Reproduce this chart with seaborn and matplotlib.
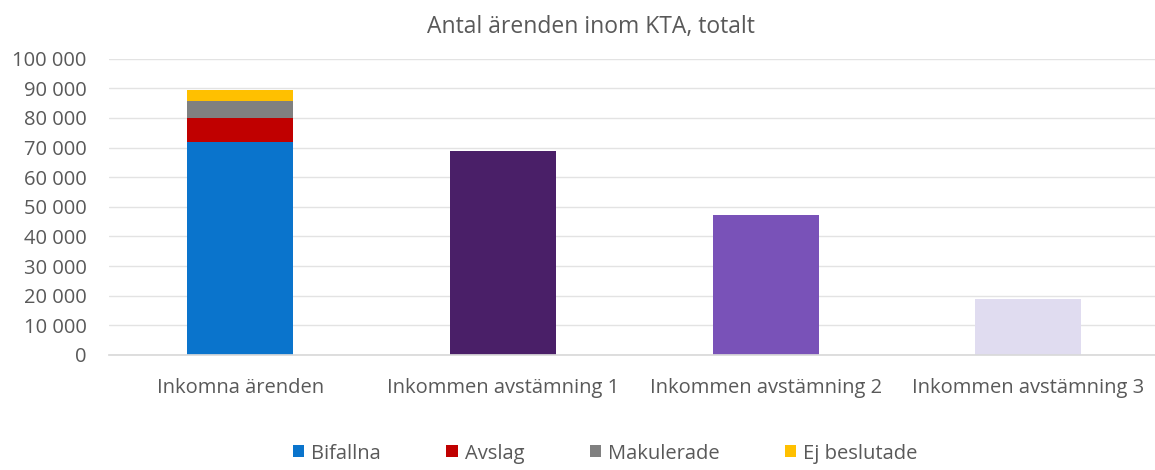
import numpy as np
import pandas as pd
import seaborn as sns
import matplotlib.pyplot as plt
from matplotlib.patches import Patch
from matplotlib.ticker import FuncFormatter

# data
categories = ["Inkomna ärenden", "Inkommen avstämning 1",
              "Inkommen avstämning 2", "Inkommen avstämning 3"]
stack_labels = ["Bifallna", "Avslag", "Makulerade", "Ej beslutade"]
stack_values = [72000, 7900, 5900, 3500]
stack_colors = ["#0A74CC", "#C00000", "#808080", "#FFC000"]
other_values = [69000, 47300, 18800]
other_colors = ["#4A1F68", "#7952B8", "#E0DCF0"]

sns.set_theme(style="white")
plt.rcParams['font.family'] = ['Open Sans', 'DejaVu Sans']
text_grey = "#595959"
fs = 14.5

fig = plt.figure(figsize=(11.55, 4.7), dpi=100)
ax = fig.add_axes([0.0941, 0.245, 0.910, 0.63])

bar_w = 0.403

# stacked first bar: draw cumulative totals from the top down
cum = np.cumsum(stack_values)
for i in reversed(range(len(stack_values))):
    sns.barplot(x=[categories[0]], y=[cum[i]], order=categories,
                color=stack_colors[i], saturation=1, width=bar_w,
                linewidth=0, ax=ax)

df = pd.DataFrame({"kategori": categories[1:], "antal": other_values})
sns.barplot(data=df, x="kategori", y="antal", order=categories,
            hue="kategori", palette=other_colors, saturation=1,
            width=bar_w, linewidth=0, legend=False, ax=ax)

ax.set_ylim(0, 100000)
ax.set_xlim(-0.5, 3.5)
ax.set_yticks(np.arange(0, 100001, 10000))
ax.yaxis.set_major_formatter(FuncFormatter(lambda v, p: f"{int(v):,}".replace(",", " ")))
ax.grid(axis="y", color="#E3E3E3", linewidth=1)
ax.set_axisbelow(True)
sns.despine(ax=ax, left=True, top=True, right=True, bottom=False)
ax.spines["bottom"].set_color("#D9D9D9")
ax.tick_params(axis="both", length=0, labelsize=fs, colors=text_grey)
ax.tick_params(axis="y", pad=16)
ax.tick_params(axis="x", pad=17)
ax.set_xlabel("")
ax.set_ylabel("")
fig.text(0.512, 0.942, "Antal ärenden inom KTA, totalt", fontsize=16.5,
         color=text_grey, ha="center", va="center")

handles = [Patch(facecolor=c, edgecolor="none") for c in stack_colors]
fig.legend(handles, stack_labels, loc="center", bbox_to_anchor=(0.524, 0.035),
           ncol=4, frameon=False, fontsize=fs, labelcolor=text_grey,
           handlelength=0.55, handleheight=0.55, handletextpad=0.35, columnspacing=3.25)

fig.savefig("out.png", dpi=100)
